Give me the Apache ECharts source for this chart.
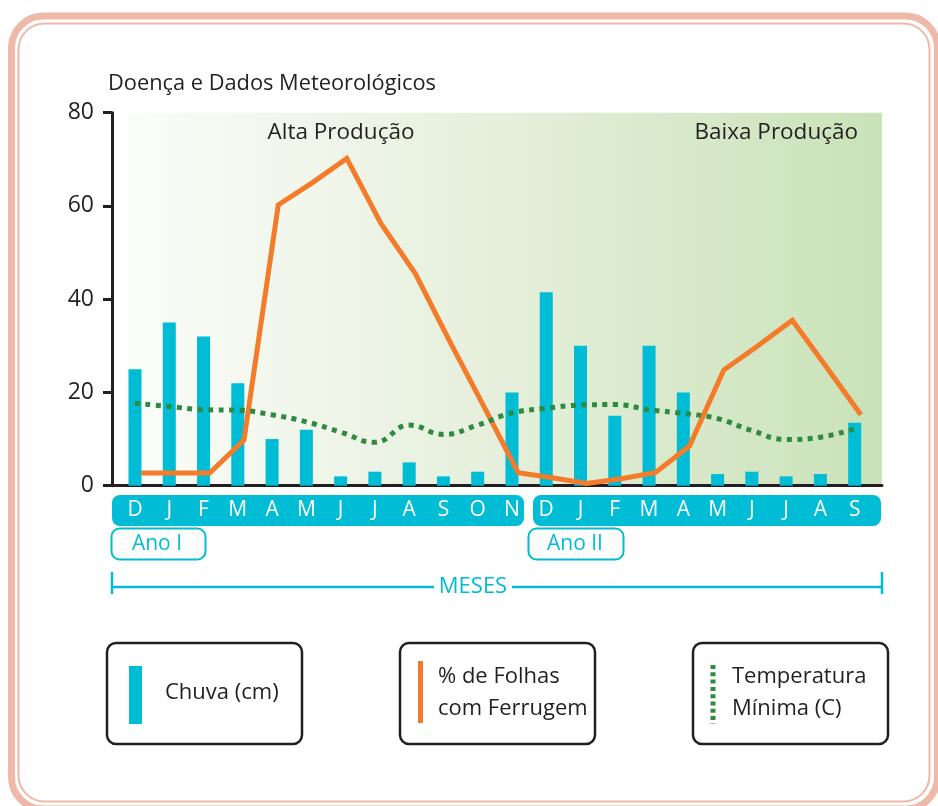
<!DOCTYPE html>
<html>
<head>
<meta charset="utf-8">
<script src="https://cdn.jsdelivr.net/npm/echarts@6/dist/echarts.min.js"></script>
<style>
  html, body { margin: 0; padding: 0; background: #fff; }
  #chart { width: 938px; height: 806px; }
</style>
</head>
<body>
<div id="chart"></div>
<script>
// months, Ano I (Dez..Nov) then Ano II (Dez..Set)
const months = ['D', 'J', 'F', 'M', 'A', 'M', 'J', 'J', 'A', 'S', 'O', 'N',
                'D', 'J', 'F', 'M', 'A', 'M', 'J', 'J', 'A', 'S'];
const chuva = [25, 35, 32, 22, 10, 12, 2, 3, 5, 2, 3, 20,
               41.5, 30, 15, 30, 20, 2.5, 3, 2, 2.5, 13.5];
const ferrugem = [2.7, 2.7, 2.7, 9.8, 60.2, 65, 70.2, 56.2, 45.5, 31, 17, 2.8,
                  1.7, 0.5, 1.5, 2.8, 8.5, 24.8, 30, 35.5, 25.4, 15.2];
const tempMin = [17.7, 17.0, 16.3, 16.2, 15.2, 13.7, 11.5, 9.3, 13.0, 11.0, 13.0, 15.6,
                 16.6, 17.3, 17.4, 16.3, 15.5, 14.4, 11.8, 9.9, 10.4, 12.2];
const yTicks = [0, 20, 40, 60, 80];

const FONT = '"Open Sans", "Noto Sans", sans-serif';
const INK = '#231f20';
const TEAL = '#00bcd4';
const ORANGE = '#f47b2a';
const GREEN = '#2e8a3f';
const PINK = '#f0b8a8';

// plot geometry
const axisX = 112, axisRight = 882, gridTop = 112.7, gridBottomY = 485.7;
const firstCenter = 135, band = 34.27;
const xMin = (axisX - firstCenter) / band;
const xMax = (axisRight - firstCenter) / band;
const lineShift = 0.18; // the rust line sits a little right of each month

const chart = echarts.init(document.getElementById('chart'));

const txt = (text, x, y, size, color, align) => ({
  type: 'text', x: x, y: y, z: 5,
  style: { text: text, fill: color || INK, font: size + 'px ' + FONT,
           textAlign: align || 'left', textVerticalAlign: 'middle' }
});
const box = (x, y, w, h, r, stroke, lw, fill, z) => ({
  type: 'rect', shape: { x: x, y: y, width: w, height: h, r: r }, z: z === undefined ? 1 : z,
  style: { fill: fill || 'none', stroke: stroke, lineWidth: lw }
});
const seg = (x1, y1, x2, y2, color, lw, dash) => ({
  type: 'line', shape: { x1: x1, y1: y1, x2: x2, y2: y2 }, z: 5,
  style: { stroke: color, lineWidth: lw, lineDash: dash || null, lineCap: 'butt' }
});

chart.setOption({
  animation: false,
  backgroundColor: '#fff',
  grid: [
    { left: axisX, right: 938 - axisRight, top: gridTop, bottom: 806 - gridBottomY, outerBoundsMode: 'none' },
    { left: firstCenter - band / 2, width: band * months.length, top: gridTop, bottom: 806 - gridBottomY, outerBoundsMode: 'none' }
  ],
  xAxis: [
    {
      type: 'value', gridIndex: 0, min: xMin, max: xMax,
      axisLine: { show: true, onZero: false, lineStyle: { color: INK, width: 3 } },
      axisTick: { show: false }, axisLabel: { show: false }, splitLine: { show: false }
    },
    {
      type: 'category', gridIndex: 1, data: months, z: 10,
      axisLine: { show: false }, axisTick: { show: false }, splitLine: { show: false },
      axisLabel: { interval: 0, color: '#fff', fontSize: 21, fontFamily: FONT, margin: 14 }
    }
  ],
  yAxis: [
    {
      type: 'value', gridIndex: 0, min: yTicks[0], max: yTicks[yTicks.length - 1],
      interval: yTicks[1] - yTicks[0],
      axisLine: { show: true, onZero: false, lineStyle: { color: INK, width: 3 } },
      axisTick: { show: true, length: 9, lineStyle: { color: INK, width: 3 } },
      axisLabel: { color: INK, fontSize: 23, fontFamily: FONT, margin: 18 },
      splitLine: { show: false }
    },
    { type: 'value', gridIndex: 1, min: 0, max: 80, show: false }
  ],
  series: [
    {
      name: 'Chuva (cm)', type: 'bar', xAxisIndex: 0, yAxisIndex: 0,
      barWidth: 13, itemStyle: { color: TEAL },
      data: chuva.map((v, i) => [i, v]), z: 2
    },
    {
      name: '% de Folhas com Ferrugem', type: 'line', xAxisIndex: 0, yAxisIndex: 0,
      showSymbol: false, lineStyle: { color: ORANGE, width: 5, join: 'miter' },
      data: ferrugem.map((v, i) => [i + lineShift, v]), z: 3
    },
    {
      name: 'Temperatura Mínima (C)', type: 'line', xAxisIndex: 0, yAxisIndex: 0,
      showSymbol: false, smooth: 0.45,
      lineStyle: { color: GREEN, width: 5, type: [5, 5.5], cap: 'butt' },
      data: tempMin.map((v, i) => [i, v]), z: 4
    }
  ],
  graphic: [
    // page frame
    box(11.5, 16, 926, 793, 32, PINK, 7),
    box(18.5, 23.5, 911, 778, 26, PINK, 2),
    // plot background
    {
      type: 'rect', z: -1, shape: { x: 127, y: gridTop, width: axisRight - 127, height: gridBottomY - gridTop },
      style: {
        fill: new echarts.graphic.LinearGradient(0, 0, 1, 0, [
          { offset: 0, color: '#fbfdf9' },
          { offset: 0.5, color: '#e5efdb' },
          { offset: 1, color: '#c9e2b8' }
        ])
      }
    },
    // month bands (under the month labels)
    box(112, 495, 412, 31, 8, 'none', 0, TEAL, -1),
    box(533, 495, 348, 31, 8, 'none', 0, TEAL, -1),
    box(111.5, 528.5, 94, 31, 8, TEAL, 2, '#fff'),
    box(528.5, 528.5, 95, 31, 8, TEAL, 2, '#fff'),
    txt('Ano I', 157, 544, 21, TEAL, 'center'),
    txt('Ano II', 575, 544, 21, TEAL, 'center'),
    // MESES span
    seg(112, 587, 434, 587, TEAL, 2.5),
    seg(512, 587, 882, 587, TEAL, 2.5),
    seg(112, 572, 112, 594, TEAL, 2.5),
    seg(882, 572, 882, 594, TEAL, 2.5),
    txt('MESES', 473, 587, 22, TEAL, 'center'),
    // titles
    txt('Doença e Dados Meteorológicos', 108, 84, 21.8),
    txt('Alta Produção', 341, 133, 22.5, INK, 'center'),
    txt('Baixa Produção', 858, 133, 22.5, INK, 'right'),
    // legend boxes
    box(107, 643, 195, 101, 9, INK, 2.5),
    box(400, 643, 195, 101, 9, INK, 2.5),
    box(693, 643, 195, 101, 9, INK, 2.5),
    box(129, 666, 13, 58, 0, 'none', 0, TEAL),
    txt('Chuva (cm)', 165, 693, 22),
    seg(420.5, 661, 420.5, 723, ORANGE, 5),
    txt('% de Folhas', 438, 677, 22),
    txt('com Ferrugem', 438, 709, 22),
    seg(713, 665, 713, 724, GREEN, 5, [4, 3.3]),
    txt('Temperatura', 732, 677, 22),
    txt('Mínima (C)', 732, 709, 22)
  ]
});
</script>
</body>
</html>
